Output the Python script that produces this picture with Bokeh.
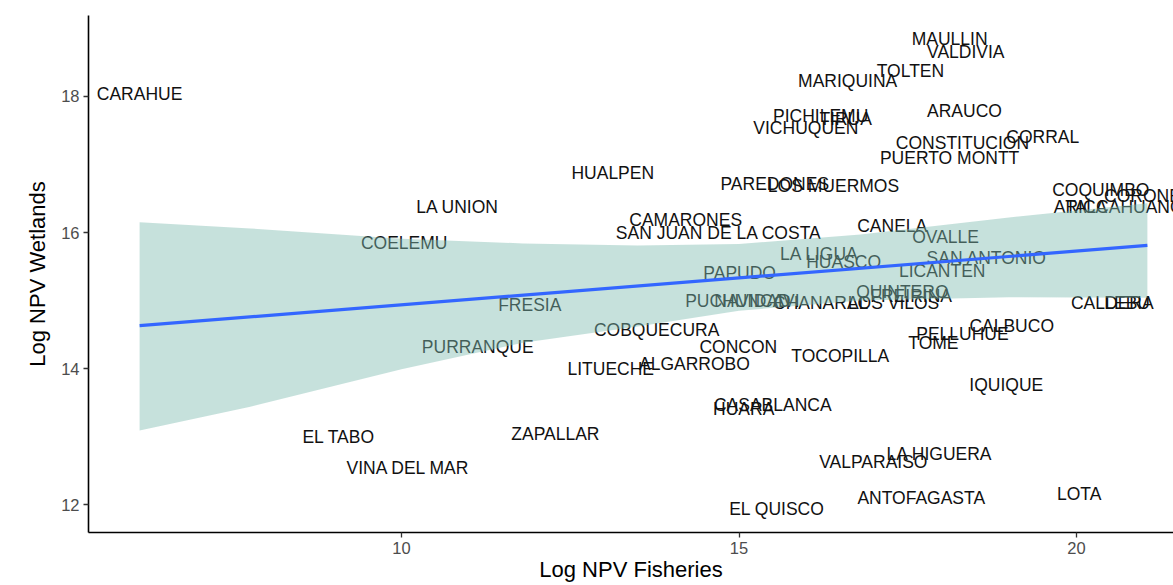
from bokeh.plotting import figure
from bokeh.models import Range1d, FixedTicker, ColumnDataSource
from bokeh.core.properties import value
from bokeh.embed import file_html
from bokeh.resources import INLINE

# ---- data ----
names = ["CARAHUE", "MAULLIN", "VALDIVIA", "TOLTEN", "MARIQUINA", "PICHILEMU", "TIRUA",
         "VICHUQUEN", "ARAUCO", "CONSTITUCION", "CORRAL", "PUERTO MONTT", "HUALPEN",
         "PAREDONES", "LOS MUERMOS", "LA UNION", "CAMARONES", "SAN JUAN DE LA COSTA",
         "CANELA", "COELEMU", "OVALLE", "LA LIGUA", "HUASCO", "SAN ANTONIO", "LICANTEN",
         "PAPUDO", "FRESIA", "PUCHUNCAVI", "NAVIDAD", "CHANARAL", "LOS VILOS", "QUINTERO",
         "FREIRINA", "COBQUECURA", "CALBUCO", "PELLUHUE", "TOME", "PURRANQUE", "CONCON",
         "TOCOPILLA", "LITUECHE", "ALGARROBO", "IQUIQUE", "CASABLANCA", "HUARA", "EL TABO",
         "ZAPALLAR", "VINA DEL MAR", "LA HIGUERA", "VALPARAISO", "LOTA", "ANTOFAGASTA",
         "EL QUISCO", "COQUIMBO", "CORONEL", "ARICA", "TALCAHUANO", "CALDERA", "LEBU"]
log_npv_fisheries = [6.12, 18.12, 18.36, 17.54, 16.61, 16.21, 16.58,
                     15.99, 18.34, 18.31, 19.50, 18.12, 13.13,
                     15.53, 16.40, 10.83, 14.21, 14.70,
                     17.27, 10.04, 18.06, 16.19, 16.55, 18.67, 18.01,
                     15.01, 11.90, 15.05, 15.20, 16.21, 17.29, 17.42,
                     17.55, 13.78, 19.04, 18.31, 17.88, 11.13, 14.99,
                     16.50, 13.10, 14.34, 18.96, 15.50, 15.07, 9.07,
                     12.28, 10.10, 17.97, 16.99, 20.04, 17.70,
                     15.56, 20.36, 21.05, 20.06, 20.71, 20.53, 20.75]
log_npv_wetlands = [18.03, 18.85, 18.65, 18.37, 18.22, 17.71, 17.67,
                    17.54, 17.79, 17.32, 17.41, 17.10, 16.87,
                    16.72, 16.69, 16.38, 16.19, 16.00,
                    16.10, 15.85, 15.93, 15.68, 15.56, 15.62, 15.43,
                    15.41, 14.94, 15.00, 15.00, 14.97, 14.97, 15.12,
                    15.06, 14.57, 14.63, 14.51, 14.37, 14.32, 14.32,
                    14.18, 13.99, 14.06, 13.76, 13.47, 13.41, 13.00,
                    13.04, 12.54, 12.74, 12.62, 12.16, 12.09,
                    11.93, 16.63, 16.54, 16.38, 16.38, 14.97, 14.97]

fit_x = [6.12, 21.05]
fit_y = [14.63, 15.81]
band_x = [6.12, 7.76, 10.0, 11.8, 13.5, 15.0, 16.8, 19.0, 21.05]
band_upper = [16.15, 16.06, 15.91, 15.84, 15.81, 15.83, 15.97, 16.22, 16.43]
band_lower = [13.09, 13.44, 13.99, 14.38, 14.62, 14.85, 15.00, 15.05, 15.04]

x_ticks = [10, 15, 20]
y_ticks = [12, 14, 16, 18]
x_title = "Log NPV Fisheries"
y_title = "Log NPV Wetlands"

FONT = "Liberation Sans"

p = figure(width=1173, height=585, output_backend="svg", toolbar_location=None,
           x_range=Range1d(5.363, 21.437), y_range=Range1d(11.59, 19.19),
           min_border_left=88, min_border_right=0, min_border_top=15, min_border_bottom=53,
           background_fill_color="white", border_fill_color="white")
p.outline_line_color = None
p.xgrid.visible = False
p.ygrid.visible = False

src = ColumnDataSource(dict(x=log_npv_fisheries, y=log_npv_wetlands, t=names))
p.text(x="x", y="y", text="t", source=src, text_align="center", text_baseline="middle",
       text_font=value(FONT), text_font_size="17.5px", text_color="#111111")

p.varea(x=band_x, y1=band_lower, y2=band_upper, fill_color="#81bdb2", fill_alpha=0.45)
p.line(x=fit_x, y=fit_y, line_color="#3366FF", line_width=3.2)

for ax in (p.xaxis, p.yaxis):
    ax.axis_line_color = "black"
    ax.axis_line_width = 1.6
    ax.major_tick_line_color = "#333333"
    ax.major_tick_line_width = 1.3
    ax.major_tick_out = 5
    ax.major_tick_in = 0
    ax.minor_tick_line_color = None
    ax.major_label_text_font = FONT
    ax.major_label_text_font_size = "16.5px"
    ax.major_label_text_color = "#4D4D4D"
    ax.axis_label_text_font = FONT
    ax.axis_label_text_font_size = "22px"
    ax.axis_label_text_font_style = "normal"
    ax.axis_label_text_color = "black"

p.xaxis.ticker = FixedTicker(ticks=x_ticks)
p.yaxis.ticker = FixedTicker(ticks=y_ticks)
p.xaxis.axis_label = x_title
p.yaxis.axis_label = y_title
p.xaxis.major_label_standoff = 4
p.xaxis.axis_label_standoff = 0
p.yaxis.major_label_standoff = 4
p.yaxis.axis_label_standoff = 8

open("out.html", "w").write(file_html(p, INLINE))
